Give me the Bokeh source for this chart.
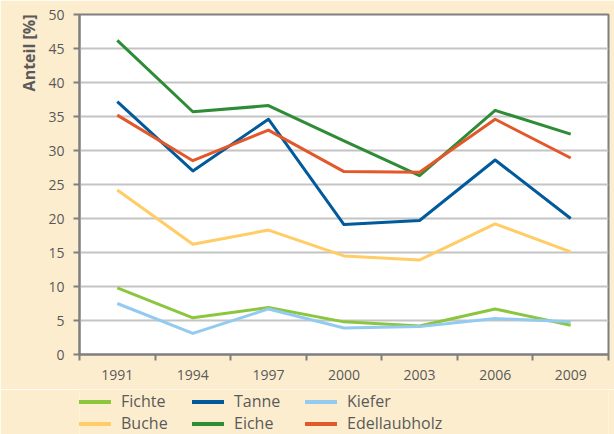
from bokeh.plotting import figure
from bokeh.models import (Range1d, FixedTicker, Legend, LegendItem, Title)
from bokeh.layouts import column
from bokeh.embed import file_html
from bokeh.resources import INLINE

years = ["1991", "1994", "1997", "2000", "2003", "2006", "2009"]
fichte = [9.8, 5.4, 6.9, 4.8, 4.2, 6.7, 4.3]
tanne = [37.2, 27.0, 34.6, 19.1, 19.7, 28.6, 20.0]
kiefer = [7.5, 3.1, 6.7, 3.9, 4.1, 5.3, 4.8]
buche = [24.2, 16.2, 18.3, 14.5, 13.9, 19.2, 15.1]
eiche = [46.2, 35.7, 36.6, 31.4, 26.3, 35.9, 32.4]
edellaubholz = [35.2, 28.5, 33.0, 26.9, 26.8, 34.6, 28.9]
y_ticks = [0, 5, 10, 15, 20, 25, 30, 35, 40, 45, 50]

series = [
    ("Fichte", fichte, "#8CC63E"),
    ("Buche", buche, "#FFCC66"),
    ("Tanne", tanne, "#005A9B"),
    ("Eiche", eiche, "#2E8B36"),
    ("Kiefer", kiefer, "#92CBEF"),
    ("Edellaubholz", edellaubholz, "#E2582A"),
]

FONT = "Open Sans"
GREY = "#5a5a5a"
AXIS = "#7f7f7f"
BG = "#FDEDCF"

xs = [i + 0.5 for i in range(len(years))]

p = figure(width=614, height=389, output_backend="svg", toolbar_location=None,
           x_range=Range1d(0, len(years)), y_range=Range1d(0, 50),
           min_border_left=79, min_border_right=6, min_border_top=14,
           min_border_bottom=35)
p.border_fill_color = BG
p.background_fill_color = "white"
p.outline_line_color = AXIS
p.outline_line_width = 2

for name, vals, col in series:
    p.line(xs, vals, line_color=col, line_width=3, line_join="round")

# x axis
xa = p.xaxis[0]
xa.ticker = FixedTicker(ticks=xs, minor_ticks=list(range(len(years) + 1)))
xa.major_label_overrides = {x: y for x, y in zip(xs, years)}
xa.major_tick_out = 0
xa.major_tick_in = 0
xa.minor_tick_out = 6
xa.minor_tick_in = 0
xa.minor_tick_line_color = AXIS
xa.minor_tick_line_width = 2
xa.axis_line_color = AXIS
xa.axis_line_width = 2
xa.major_label_text_font = FONT
xa.major_label_text_font_size = "14px"
xa.major_label_text_color = GREY
xa.major_label_standoff = 9
p.xgrid.visible = False

# y axis
ya = p.yaxis[0]
ya.ticker = FixedTicker(ticks=y_ticks)
ya.major_tick_out = 6
ya.major_tick_in = 0
ya.major_tick_line_color = AXIS
ya.major_tick_line_width = 2
ya.minor_tick_line_color = None
ya.axis_line_color = AXIS
ya.axis_line_width = 2
ya.major_label_text_font = FONT
ya.major_label_text_font_size = "14px"
ya.major_label_text_color = GREY
ya.major_label_standoff = 9
p.ygrid.grid_line_color = "#c4c4c4"
p.ygrid.grid_line_width = 2

title = Title(text="Anteil [%]", align="right", text_font=FONT,
              text_font_size="16px", text_font_style="bold", text_color=GREY,
              standoff=12, offset=0)
p.add_layout(title, "left")

# legend in its own strip below the chart (series drawn out of view there)
lf = figure(width=614, height=45, output_backend="svg", toolbar_location=None,
            x_axis_location=None, y_axis_location=None,
            x_range=Range1d(0, len(years)), y_range=Range1d(100, 101),
            min_border=0)
lf.border_fill_color = BG
lf.background_fill_color = BG
lf.outline_line_color = None
lf.grid.visible = False

items = []
for name, vals, col in series:
    r = lf.line(xs, vals, line_color=col, line_width=4, line_cap="round")
    items.append(LegendItem(label=name, renderers=[r]))

legend = Legend(items=items, orientation="vertical", nrows=2, location=(0, 0))
legend.padding = 0
legend.margin = 0
legend.spacing = 0
legend.glyph_width = 32
legend.glyph_height = 19
legend.label_height = 19
legend.label_width = 71
legend.label_standoff = 10
legend.label_text_font = FONT
legend.label_text_font_size = "16px"
legend.label_text_color = GREY
legend.border_line_color = None
legend.background_fill_alpha = 0
lf.add_layout(legend)

layout = column(p, lf, spacing=0)
open("out.html", "w").write(file_html(layout, INLINE))
